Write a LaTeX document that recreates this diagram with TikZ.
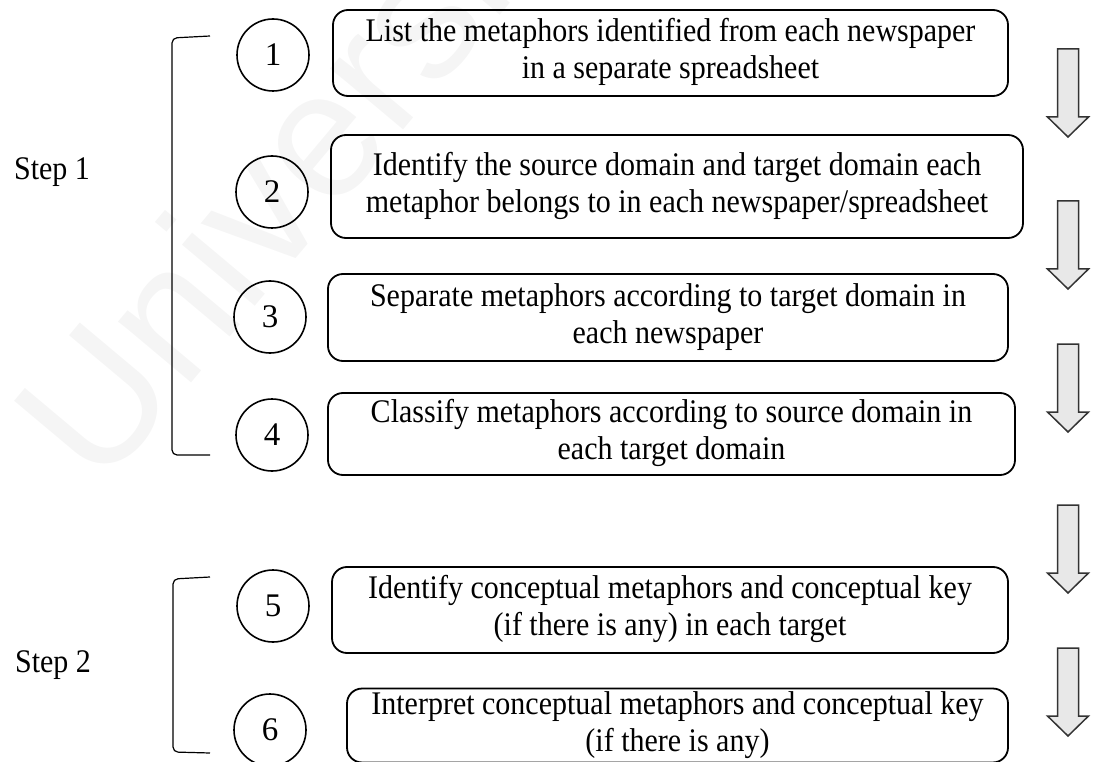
\documentclass[tikz,border=0pt]{standalone}
\usepackage{fontspec}
\setmainfont{Liberation Serif}
\newfontfamily\wmfont{Liberation Sans}
% centred lines of text, set slightly taller than wide
\newcommand\tallrows[1]{\scalebox{1}[1.1]{\begin{tabular}{@{}c@{}}#1\end{tabular}}}
\begin{document}
\begin{tikzpicture}[x=1pt,y=-1pt,
  stepbox/.style={draw, line width=1.8pt, rounded corners=15pt, align=center,
    inner sep=0pt, font=\fontsize{30}{33.6}\selectfont},
  num/.style={draw, circle, line width=1.6pt, minimum size=72pt, inner sep=0pt,
    font=\fontsize{33}{36}\selectfont},
  bracket/.style={draw, line width=1.2pt, rounded corners=5pt},
  steplabel/.style={inner sep=0pt, font=\fontsize{30}{33.6}\selectfont},
  pics/downarrow/.style={code={
    \draw[draw=black!80, fill=gray!18, line width=1.5pt, line join=miter]
      (-10.5,0) -- (10.5,0) -- (10.5,68) -- (20.5,68) -- (0,88)
      -- (-20.5,68) -- (-10.5,68) -- cycle;}}
]
\useasboundingbox (0,0) rectangle (1093,762);
\clip (0,0) rectangle (1093,762);

% background watermark
\node[text=gray!8, font=\wmfont\fontsize{180}{180}\selectfont, rotate=50,
  anchor=base west, inner sep=0pt] (wm) at (100,492) {Universiti};

% numbered circles
\node[num] (c1) at (273,55) {1};
\node[num] (c2) at (272,192) {2};
\node[num] (c3) at (270,317) {3};
\node[num] (c4) at (272,435) {4};
\node[num] (c5) at (273,606) {5};
\node[num] (c6) at (270,730) {6};

% step boxes
\node[stepbox, minimum width=675pt, minimum height=86pt] (b1) at (670.5,53)
  {\tallrows{List the metaphors identified from each newspaper\\in a separate spreadsheet}};
\node[stepbox, minimum width=692pt, minimum height=103pt] (b2) at (677,186.5)
  {\tallrows{Identify the source domain and target domain each\\metaphor belongs to in each newspaper/spreadsheet}};
\node[stepbox, minimum width=680pt, minimum height=87pt] (b3) at (668,317.5)
  {\tallrows{Separate metaphors according to target domain in\\each newspaper}};
\node[stepbox, minimum width=687pt, minimum height=82pt] (b4) at (671.5,434)
  {\tallrows{Classify metaphors according to source domain in\\each target domain}};
\node[stepbox, minimum width=676pt, minimum height=86pt] (b5) at (670,610)
  {\tallrows{Identify conceptual metaphors and conceptual key\\(if there is any) in each target}};
\node[stepbox, minimum width=661pt, minimum height=67pt] (b6) at (677.5,725.5)
  {\tallrows{Interpret conceptual metaphors and conceptual key\\(if there is any)}};

% step brackets and labels
\coordinate (s1t) at (210,36);
\coordinate (s1b) at (210,455);
\draw[bracket] (s1t) -- (172,38) -- (172,455) -- (s1b);
\node[steplabel] (step1) at (52,172) {\tallrows{Step 1}};

\coordinate (s2t) at (210,577);
\coordinate (s2b) at (210,753);
\draw[bracket] (s2t) -- (173,579) -- (173,752) -- (s2b);
\node[steplabel] (step2) at (53,665) {\tallrows{Step 2}};

% downward block arrows
\pic at (1068,49) {downarrow};
\pic at (1068,201) {downarrow};
\pic at (1068,344) {downarrow};
\pic at (1068,505) {downarrow};
\pic at (1068,648) {downarrow};
\end{tikzpicture}
\end{document}
